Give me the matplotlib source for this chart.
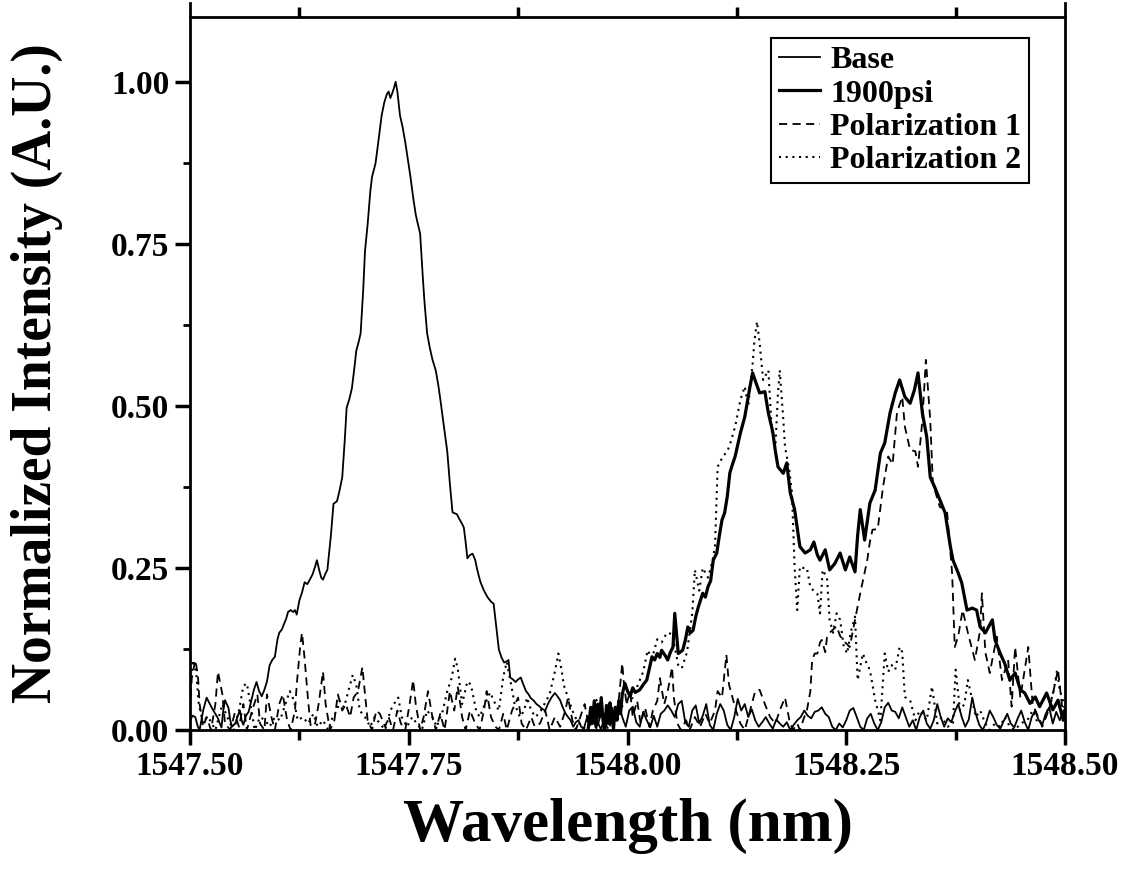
import numpy as np
import matplotlib
matplotlib.use('Agg')
import matplotlib.pyplot as plt
from matplotlib.ticker import MultipleLocator, FormatStrFormatter

# ---- data (wavelength in nm, normalized intensity) ----
base_wl = [1547.500, 1547.503, 1547.506, 1547.509, 1547.511, 1547.515, 1547.519, 1547.522, 1547.525, 1547.529,
           1547.532, 1547.534, 1547.536, 1547.538, 1547.540, 1547.542, 1547.544, 1547.546, 1547.548, 1547.550,
           1547.552, 1547.554, 1547.557, 1547.559, 1547.561, 1547.564, 1547.567, 1547.570, 1547.573, 1547.576,
           1547.579, 1547.582, 1547.585, 1547.588, 1547.591, 1547.594, 1547.597, 1547.600, 1547.602, 1547.605,
           1547.607, 1547.610, 1547.612, 1547.615, 1547.618, 1547.620, 1547.622, 1547.625, 1547.628, 1547.631,
           1547.634, 1547.637, 1547.640, 1547.643, 1547.645, 1547.648, 1547.650, 1547.652, 1547.655, 1547.657,
           1547.661, 1547.664, 1547.668, 1547.671, 1547.674, 1547.677, 1547.679, 1547.682, 1547.685, 1547.688,
           1547.690, 1547.693, 1547.695, 1547.698, 1547.700, 1547.703, 1547.706, 1547.708, 1547.712, 1547.715,
           1547.719, 1547.722, 1547.725, 1547.727, 1547.729, 1547.731, 1547.733, 1547.735, 1547.737, 1547.740,
           1547.743, 1547.746, 1547.749, 1547.752, 1547.755, 1547.758, 1547.760, 1547.763, 1547.766, 1547.768,
           1547.771, 1547.774, 1547.777, 1547.781, 1547.784, 1547.786, 1547.789, 1547.792, 1547.794, 1547.797,
           1547.800, 1547.803, 1547.805, 1547.808, 1547.811, 1547.813, 1547.815, 1547.817, 1547.820, 1547.823,
           1547.826, 1547.828, 1547.830, 1547.832, 1547.836, 1547.840, 1547.844, 1547.847, 1547.850, 1547.853,
           1547.856, 1547.859, 1547.862, 1547.864, 1547.866, 1547.869, 1547.872, 1547.875, 1547.878, 1547.881,
           1547.884, 1547.887, 1547.889, 1547.893, 1547.896, 1547.899, 1547.902, 1547.906, 1547.909, 1547.913,
           1547.917, 1547.920, 1547.923, 1547.926, 1547.929, 1547.932, 1547.935, 1547.938, 1547.941, 1547.944,
           1547.947, 1547.950, 1547.954, 1547.958, 1547.962, 1547.966, 1547.970, 1547.974, 1547.978, 1547.982,
           1547.986, 1547.990, 1547.994, 1547.998, 1548.002, 1548.006, 1548.010, 1548.014, 1548.018, 1548.022,
           1548.026, 1548.030, 1548.034, 1548.038, 1548.042, 1548.046, 1548.050, 1548.054, 1548.058, 1548.062,
           1548.066, 1548.070, 1548.074, 1548.078, 1548.082, 1548.086, 1548.090, 1548.094, 1548.098, 1548.102,
           1548.106, 1548.110, 1548.114, 1548.118, 1548.122, 1548.126, 1548.130, 1548.134, 1548.138, 1548.142,
           1548.146, 1548.150, 1548.154, 1548.158, 1548.162, 1548.166, 1548.170, 1548.174, 1548.178, 1548.182,
           1548.186, 1548.190, 1548.194, 1548.198, 1548.202, 1548.206, 1548.210, 1548.214, 1548.218, 1548.222,
           1548.226, 1548.230, 1548.234, 1548.238, 1548.242, 1548.246, 1548.250, 1548.254, 1548.258, 1548.262,
           1548.266, 1548.270, 1548.274, 1548.278, 1548.282, 1548.286, 1548.290, 1548.294, 1548.298, 1548.302,
           1548.306, 1548.310, 1548.314, 1548.318, 1548.322, 1548.326, 1548.330, 1548.334, 1548.338, 1548.342,
           1548.346, 1548.350, 1548.354, 1548.358, 1548.362, 1548.366, 1548.370, 1548.374, 1548.378, 1548.382,
           1548.386, 1548.390, 1548.394, 1548.398, 1548.402, 1548.406, 1548.410, 1548.414, 1548.418, 1548.422,
           1548.426, 1548.430, 1548.434, 1548.438, 1548.442, 1548.446, 1548.450, 1548.454, 1548.458, 1548.462,
           1548.466, 1548.470, 1548.474, 1548.478, 1548.482, 1548.486, 1548.490, 1548.494, 1548.498, 1548.500]
base_int = [0.015, 0.022, 0.020, 0.005, 0.000, 0.030, 0.050, 0.042, 0.034, 0.025,
            0.018, 0.010, 0.004, 0.030, 0.046, 0.040, 0.034, 0.015, 0.005, 0.008,
            0.010, 0.020, 0.030, 0.015, 0.008, 0.022, 0.028, 0.045, 0.062, 0.074,
            0.060, 0.052, 0.062, 0.075, 0.100, 0.108, 0.113, 0.140, 0.150, 0.155,
            0.162, 0.172, 0.182, 0.185, 0.182, 0.185, 0.178, 0.200, 0.212, 0.228,
            0.225, 0.232, 0.240, 0.252, 0.262, 0.245, 0.235, 0.232, 0.242, 0.247,
            0.300, 0.349, 0.353, 0.370, 0.390, 0.450, 0.497, 0.510, 0.527, 0.560,
            0.585, 0.600, 0.612, 0.680, 0.739, 0.780, 0.830, 0.853, 0.874, 0.905,
            0.948, 0.968, 0.981, 0.985, 0.975, 0.982, 0.990, 1.000, 0.985, 0.948,
            0.930, 0.907, 0.880, 0.853, 0.822, 0.795, 0.783, 0.766, 0.700, 0.660,
            0.612, 0.590, 0.572, 0.554, 0.530, 0.511, 0.480, 0.450, 0.430, 0.380,
            0.336, 0.334, 0.333, 0.325, 0.318, 0.312, 0.290, 0.265, 0.270, 0.272,
            0.262, 0.249, 0.238, 0.228, 0.215, 0.205, 0.198, 0.195, 0.160, 0.124,
            0.112, 0.104, 0.106, 0.108, 0.081, 0.078, 0.074, 0.078, 0.081, 0.070,
            0.060, 0.055, 0.050, 0.045, 0.040, 0.037, 0.033, 0.030, 0.040, 0.050,
            0.057, 0.052, 0.046, 0.035, 0.026, 0.020, 0.015, 0.005, 0.012, 0.015,
            0.005, 0.002, 0.020, 0.008, 0.030, 0.012, 0.000, 0.025, 0.010, 0.035,
            0.015, 0.040, 0.020, 0.005, 0.030, 0.036, 0.012, 0.005, 0.028, 0.015,
            0.004, 0.022, 0.005, 0.025, 0.030, 0.038, 0.030, 0.020, 0.040, 0.045,
            0.012, 0.005, 0.030, 0.038, 0.010, 0.022, 0.040, 0.008, 0.000, 0.025,
            0.040, 0.030, 0.008, 0.000, 0.020, 0.048, 0.030, 0.040, 0.020, 0.032,
            0.015, 0.005, 0.012, 0.020, 0.010, 0.002, 0.016, 0.010, 0.005, 0.012,
            0.000, 0.008, 0.015, 0.020, 0.030, 0.022, 0.018, 0.028, 0.030, 0.035,
            0.025, 0.020, 0.005, 0.000, 0.010, 0.004, 0.015, 0.030, 0.034, 0.020,
            0.005, 0.000, 0.018, 0.025, 0.010, 0.000, 0.012, 0.035, 0.042, 0.030,
            0.028, 0.018, 0.035, 0.020, 0.005, 0.015, 0.000, 0.020, 0.030, 0.010,
            0.002, 0.015, 0.040, 0.020, 0.005, 0.018, 0.012, 0.028, 0.040, 0.020,
            0.005, 0.016, 0.050, 0.025, 0.008, 0.000, 0.012, 0.030, 0.020, 0.008,
            0.002, 0.014, 0.025, 0.010, 0.004, 0.018, 0.030, 0.012, 0.000, 0.020,
            0.030, 0.015, 0.008, 0.025, 0.035, 0.010, 0.028, 0.015, 0.030, 0.020]

psi_wl = [1547.955, 1547.958, 1547.960, 1547.962, 1547.964, 1547.966, 1547.968, 1547.970, 1547.972, 1547.974,
          1547.976, 1547.978, 1547.980, 1547.982, 1547.984, 1547.986, 1547.988, 1547.990, 1547.992, 1547.994,
          1547.997, 1548.000, 1548.003, 1548.006, 1548.009, 1548.014, 1548.018, 1548.022, 1548.025, 1548.028,
          1548.031, 1548.034, 1548.037, 1548.039, 1548.043, 1548.046, 1548.049, 1548.052, 1548.054, 1548.058,
          1548.063, 1548.066, 1548.069, 1548.072, 1548.075, 1548.078, 1548.081, 1548.086, 1548.089, 1548.092,
          1548.095, 1548.098, 1548.102, 1548.105, 1548.108, 1548.111, 1548.114, 1548.117, 1548.120, 1548.123,
          1548.126, 1548.129, 1548.134, 1548.138, 1548.140, 1548.143, 1548.147, 1548.151, 1548.157, 1548.161,
          1548.166, 1548.169, 1548.172, 1548.178, 1548.182, 1548.186, 1548.191, 1548.197, 1548.203, 1548.209,
          1548.213, 1548.217, 1548.220, 1548.226, 1548.231, 1548.237, 1548.243, 1548.249, 1548.254, 1548.260,
          1548.263, 1548.266, 1548.271, 1548.277, 1548.283, 1548.289, 1548.294, 1548.300, 1548.306, 1548.311,
          1548.317, 1548.323, 1548.328, 1548.332, 1548.337, 1548.342, 1548.346, 1548.351, 1548.357, 1548.363,
          1548.369, 1548.372, 1548.378, 1548.382, 1548.388, 1548.394, 1548.399, 1548.403, 1548.409, 1548.417,
          1548.420, 1548.426, 1548.431, 1548.437, 1548.443, 1548.449, 1548.454, 1548.460, 1548.466, 1548.471,
          1548.479, 1548.486, 1548.492, 1548.498, 1548.500]
psi_int = [0.000, 0.035, 0.010, 0.045, 0.005, 0.040, 0.020, 0.050, 0.015, 0.000,
           0.038, 0.010, 0.042, 0.020, 0.002, 0.035, 0.015, 0.045, 0.025, 0.055,
           0.072, 0.060, 0.052, 0.065, 0.058, 0.062, 0.070, 0.077, 0.095, 0.113,
           0.108, 0.118, 0.112, 0.123, 0.115, 0.108, 0.120, 0.128, 0.180, 0.118,
           0.123, 0.138, 0.159, 0.150, 0.154, 0.175, 0.190, 0.211, 0.205, 0.221,
           0.230, 0.262, 0.273, 0.300, 0.324, 0.335, 0.360, 0.397, 0.410, 0.422,
           0.440, 0.458, 0.483, 0.514, 0.530, 0.551, 0.535, 0.520, 0.522, 0.489,
           0.460, 0.430, 0.406, 0.396, 0.412, 0.366, 0.340, 0.283, 0.273, 0.278,
           0.290, 0.270, 0.262, 0.278, 0.247, 0.257, 0.273, 0.247, 0.267, 0.244,
           0.300, 0.340, 0.293, 0.350, 0.370, 0.427, 0.443, 0.489, 0.520, 0.540,
           0.514, 0.504, 0.525, 0.551, 0.489, 0.452, 0.390, 0.375, 0.355, 0.335,
           0.283, 0.262, 0.242, 0.227, 0.185, 0.188, 0.185, 0.159, 0.150, 0.170,
           0.139, 0.118, 0.103, 0.077, 0.088, 0.062, 0.057, 0.041, 0.051, 0.036,
           0.057, 0.031, 0.046, 0.015, 0.030]

pol1_wl = [1547.500, 1547.502, 1547.506, 1547.509, 1547.511, 1547.515, 1547.519, 1547.524, 1547.529, 1547.532,
           1547.537, 1547.540, 1547.546, 1547.551, 1547.556, 1547.561, 1547.565, 1547.571, 1547.577, 1547.580,
           1547.585, 1547.588, 1547.593, 1547.597, 1547.602, 1547.606, 1547.611, 1547.615, 1547.620, 1547.622,
           1547.626, 1547.628, 1547.631, 1547.635, 1547.638, 1547.643, 1547.647, 1547.652, 1547.655, 1547.660,
           1547.665, 1547.669, 1547.674, 1547.678, 1547.683, 1547.687, 1547.692, 1547.697, 1547.700, 1547.703,
           1547.708, 1547.713, 1547.717, 1547.723, 1547.727, 1547.732, 1547.737, 1547.741, 1547.746, 1547.751,
           1547.755, 1547.758, 1547.763, 1547.767, 1547.772, 1547.777, 1547.781, 1547.786, 1547.791, 1547.797,
           1547.802, 1547.806, 1547.811, 1547.815, 1547.820, 1547.826, 1547.831, 1547.836, 1547.839, 1547.844,
           1547.849, 1547.853, 1547.858, 1547.862, 1547.868, 1547.875, 1547.879, 1547.884, 1547.890, 1547.894,
           1547.900, 1547.906, 1547.911, 1547.917, 1547.923, 1547.929, 1547.932, 1547.937, 1547.941, 1547.946,
           1547.951, 1547.956, 1547.961, 1547.965, 1547.970, 1547.974, 1547.979, 1547.983, 1547.988, 1547.991,
           1547.994, 1547.996, 1547.999, 1548.003, 1548.006, 1548.011, 1548.015, 1548.020, 1548.025, 1548.029,
           1548.034, 1548.037, 1548.042, 1548.046, 1548.051, 1548.053, 1548.057, 1548.061, 1548.067, 1548.071,
           1548.077, 1548.083, 1548.089, 1548.094, 1548.100, 1548.103, 1548.108, 1548.113, 1548.116, 1548.119,
           1548.124, 1548.129, 1548.134, 1548.140, 1548.146, 1548.151, 1548.157, 1548.163, 1548.169, 1548.174,
           1548.180, 1548.185, 1548.189, 1548.194, 1548.197, 1548.202, 1548.205, 1548.209, 1548.211, 1548.214,
           1548.217, 1548.220, 1548.222, 1548.226, 1548.228, 1548.231, 1548.235, 1548.239, 1548.243, 1548.249,
           1548.254, 1548.260, 1548.266, 1548.269, 1548.274, 1548.277, 1548.280, 1548.286, 1548.292, 1548.298,
           1548.303, 1548.308, 1548.314, 1548.317, 1548.323, 1548.329, 1548.332, 1548.337, 1548.341, 1548.346,
           1548.349, 1548.357, 1548.365, 1548.371, 1548.374, 1548.378, 1548.383, 1548.389, 1548.397, 1548.403,
           1548.405, 1548.409, 1548.414, 1548.422, 1548.428, 1548.435, 1548.439, 1548.443, 1548.449, 1548.458,
           1548.463, 1548.474, 1548.483, 1548.492, 1548.498, 1548.500]
pol1_int = [0.030, 0.080, 0.108, 0.085, 0.040, 0.005, 0.020, 0.000, 0.040, 0.090,
            0.055, 0.010, 0.000, 0.025, 0.005, 0.040, 0.000, 0.030, 0.055, 0.010,
            0.000, 0.055, 0.020, 0.000, 0.040, 0.055, 0.015, 0.000, 0.030, 0.070,
            0.130, 0.150, 0.110, 0.045, 0.005, 0.010, 0.040, 0.090, 0.040, 0.000,
            0.015, 0.055, 0.030, 0.040, 0.020, 0.050, 0.060, 0.097, 0.055, 0.015,
            0.000, 0.030, 0.025, 0.005, 0.020, 0.000, 0.030, 0.010, 0.000, 0.040,
            0.077, 0.040, 0.000, 0.020, 0.060, 0.020, 0.000, 0.025, 0.000, 0.060,
            0.030, 0.067, 0.020, 0.000, 0.030, 0.010, 0.000, 0.030, 0.060, 0.020,
            0.005, 0.000, 0.025, 0.000, 0.030, 0.050, 0.010, 0.000, 0.020, 0.005,
            0.010, 0.030, 0.000, 0.020, 0.005, 0.030, 0.050, 0.015, 0.000, 0.020,
            0.040, 0.005, 0.020, 0.000, 0.030, 0.010, 0.000, 0.030, 0.020, 0.060,
            0.103, 0.070, 0.040, 0.060, 0.020, 0.045, 0.010, 0.035, 0.005, 0.030,
            0.045, 0.080, 0.040, 0.060, 0.097, 0.050, 0.010, 0.000, 0.015, 0.000,
            0.020, 0.005, 0.025, 0.010, 0.030, 0.060, 0.050, 0.116, 0.070, 0.055,
            0.030, 0.010, 0.000, 0.030, 0.060, 0.062, 0.040, 0.020, 0.010, 0.030,
            0.050, 0.015, 0.000, 0.010, 0.000, 0.020, 0.030, 0.060, 0.108, 0.118,
            0.118, 0.135, 0.139, 0.120, 0.143, 0.150, 0.155, 0.160, 0.145, 0.135,
            0.128, 0.170, 0.211, 0.230, 0.262, 0.290, 0.309, 0.310, 0.375, 0.422,
            0.410, 0.490, 0.514, 0.468, 0.432, 0.430, 0.406, 0.478, 0.571, 0.478,
            0.380, 0.344, 0.340, 0.242, 0.128, 0.145, 0.185, 0.150, 0.108, 0.154,
            0.211, 0.120, 0.088, 0.144, 0.077, 0.108, 0.036, 0.128, 0.050, 0.128,
            0.040, 0.005, 0.036, 0.093, 0.020, 0.030]

pol2_wl = [1547.500, 1547.503, 1547.507, 1547.510, 1547.515, 1547.519, 1547.523, 1547.529, 1547.533, 1547.537,
           1547.541, 1547.546, 1547.550, 1547.556, 1547.561, 1547.565, 1547.569, 1547.574, 1547.580, 1547.586,
           1547.591, 1547.597, 1547.603, 1547.609, 1547.614, 1547.619, 1547.623, 1547.629, 1547.635, 1547.641,
           1547.646, 1547.652, 1547.658, 1547.663, 1547.668, 1547.671, 1547.676, 1547.681, 1547.686, 1547.690,
           1547.694, 1547.700, 1547.706, 1547.711, 1547.717, 1547.723, 1547.729, 1547.733, 1547.738, 1547.742,
           1547.748, 1547.754, 1547.759, 1547.765, 1547.771, 1547.777, 1547.782, 1547.789, 1547.794, 1547.799,
           1547.803, 1547.806, 1547.811, 1547.817, 1547.821, 1547.827, 1547.831, 1547.837, 1547.843, 1547.849,
           1547.853, 1547.858, 1547.862, 1547.867, 1547.871, 1547.877, 1547.882, 1547.885, 1547.890, 1547.895,
           1547.901, 1547.907, 1547.911, 1547.917, 1547.921, 1547.925, 1547.927, 1547.932, 1547.937, 1547.942,
           1547.948, 1547.954, 1547.958, 1547.963, 1547.967, 1547.972, 1547.978, 1547.983, 1547.989, 1547.995,
           1548.001, 1548.006, 1548.012, 1548.018, 1548.023, 1548.028, 1548.034, 1548.039, 1548.045, 1548.051,
           1548.058, 1548.062, 1548.068, 1548.074, 1548.077, 1548.082, 1548.086, 1548.092, 1548.097, 1548.100,
           1548.103, 1548.109, 1548.114, 1548.117, 1548.123, 1548.129, 1548.134, 1548.138, 1548.141, 1548.143,
           1548.145, 1548.148, 1548.151, 1548.155, 1548.161, 1548.165, 1548.169, 1548.172, 1548.174, 1548.178,
           1548.180, 1548.185, 1548.188, 1548.191, 1548.194, 1548.197, 1548.201, 1548.205, 1548.209, 1548.212,
           1548.217, 1548.220, 1548.223, 1548.228, 1548.231, 1548.235, 1548.239, 1548.243, 1548.247, 1548.251,
           1548.255, 1548.260, 1548.263, 1548.269, 1548.274, 1548.277, 1548.283, 1548.289, 1548.294, 1548.298,
           1548.302, 1548.306, 1548.311, 1548.314, 1548.317, 1548.323, 1548.329, 1548.334, 1548.342, 1548.348,
           1548.354, 1548.359, 1548.366, 1548.372, 1548.375, 1548.380, 1548.385, 1548.389, 1548.394, 1548.398,
           1548.403, 1548.409, 1548.414, 1548.420, 1548.426, 1548.431, 1548.437, 1548.443, 1548.449, 1548.457,
           1548.463, 1548.469, 1548.477, 1548.483, 1548.487, 1548.491, 1548.494, 1548.497, 1548.500]
pol2_int = [0.050, 0.108, 0.090, 0.040, 0.010, 0.020, 0.015, 0.000, 0.020, 0.040,
            0.025, 0.010, 0.000, 0.030, 0.068, 0.072, 0.040, 0.000, 0.020, 0.015,
            0.005, 0.020, 0.015, 0.040, 0.060, 0.045, 0.015, 0.020, 0.010, 0.025,
            0.005, 0.015, 0.000, 0.020, 0.030, 0.045, 0.035, 0.060, 0.085, 0.070,
            0.030, 0.020, 0.005, 0.020, 0.010, 0.000, 0.030, 0.040, 0.050, 0.020,
            0.005, 0.020, 0.010, 0.000, 0.030, 0.020, 0.005, 0.030, 0.060, 0.080,
            0.110, 0.095, 0.040, 0.075, 0.070, 0.030, 0.020, 0.040, 0.058, 0.040,
            0.030, 0.082, 0.105, 0.070, 0.040, 0.020, 0.030, 0.050, 0.030, 0.020,
            0.030, 0.045, 0.055, 0.090, 0.118, 0.090, 0.070, 0.050, 0.030, 0.015,
            0.005, 0.000, 0.020, 0.050, 0.040, 0.020, 0.010, 0.030, 0.020, 0.040,
            0.044, 0.050, 0.070, 0.090, 0.123, 0.110, 0.140, 0.135, 0.150, 0.148,
            0.100, 0.095, 0.120, 0.180, 0.247, 0.215, 0.250, 0.235, 0.260, 0.283,
            0.406, 0.422, 0.430, 0.440, 0.468, 0.509, 0.530, 0.500, 0.540, 0.565,
            0.600, 0.630, 0.597, 0.540, 0.555, 0.460, 0.437, 0.520, 0.555, 0.480,
            0.437, 0.400, 0.366, 0.250, 0.185, 0.252, 0.250, 0.250, 0.220, 0.216,
            0.210, 0.180, 0.247, 0.235, 0.170, 0.150, 0.180, 0.170, 0.130, 0.118,
            0.150, 0.175, 0.077, 0.118, 0.100, 0.093, 0.046, 0.015, 0.118, 0.090,
            0.100, 0.093, 0.128, 0.120, 0.051, 0.046, 0.015, 0.030, 0.015, 0.067,
            0.010, 0.020, 0.005, 0.010, 0.093, 0.030, 0.040, 0.077, 0.046, 0.020,
            0.030, 0.010, 0.000, 0.010, 0.005, 0.020, 0.005, 0.000, 0.010, 0.015,
            0.030, 0.010, 0.020, 0.040, 0.060, 0.093, 0.060, 0.050, 0.030]

labels = ['Base', '1900psi', 'Polarization 1', 'Polarization 2']

plt.rcParams['font.family'] = ['Liberation Serif', 'DejaVu Serif']
plt.rcParams['font.weight'] = 'bold'

fig = plt.figure(figsize=(11.3, 8.73), dpi=100)
ax = fig.add_axes([190 / 1130, 1 - 730 / 873, 875 / 1130, 713 / 873])
ax.set_axisbelow(False)

ax.plot(base_wl, base_int, color='black', lw=1.3, label=labels[0])
ax.plot(psi_wl, psi_int, color='black', lw=2.3, label=labels[1])
ax.plot(pol1_wl, pol1_int, color='black', lw=1.3, linestyle=(0, (4.5, 3)), label=labels[2])
ax.plot(pol2_wl, pol2_int, color='black', lw=1.5, linestyle=(0, (1, 2.2)), label=labels[3])

ax.set_xlim(1547.5, 1548.5)
ax.set_ylim(0, 1.1)
ax.set_xticks([1547.5, 1547.75, 1548.0, 1548.25, 1548.5])
ax.set_yticks([0.0, 0.25, 0.5, 0.75, 1.0])
ax.xaxis.set_minor_locator(MultipleLocator(0.125))
ax.yaxis.set_minor_locator(MultipleLocator(0.125))
ax.xaxis.set_major_formatter(FormatStrFormatter('%.2f'))
ax.yaxis.set_major_formatter(FormatStrFormatter('%.2f'))
for sp in ax.spines.values():
    sp.set_linewidth(2)
ax.tick_params(which='both', direction='out', bottom=True, left=True, top=True, right=False)
ax.tick_params(which='major', length=11, width=2.5, labelsize=24, pad=4, color='black')
ax.tick_params(which='minor', length=7, width=2.5, color='black')
ax.tick_params(axis='y', which='minor', length=5, width=2)
ax.tick_params(axis='x', which='major', top=False)

# vertical axis lines run a bit past the top frame
ax.plot([0, 0], [1, 1.02], transform=ax.transAxes, color='black', lw=2, clip_on=False)
ax.plot([1, 1], [1, 1.02], transform=ax.transAxes, color='black', lw=2, clip_on=False)

ax.set_xlabel('Wavelength (nm)', fontsize=44, fontweight='bold')
ax.set_ylabel('Normalized Intensity (A.U.)', fontsize=40, fontweight='bold')
ax.xaxis.set_label_coords(0.5, -0.095)
ax.yaxis.set_label_coords(-0.145, 0.5)

leg = ax.legend(loc='upper right', bbox_to_anchor=(0.959, 0.9705), borderaxespad=0,
                fancybox=False, framealpha=1, edgecolor='black',
                prop={'weight': 'bold', 'size': 23}, handlelength=1.3,
                handletextpad=0.3, labelspacing=0.12, borderpad=0.25)
leg.get_frame().set_linewidth(1.5)

fig.savefig('out.png', dpi=100)
